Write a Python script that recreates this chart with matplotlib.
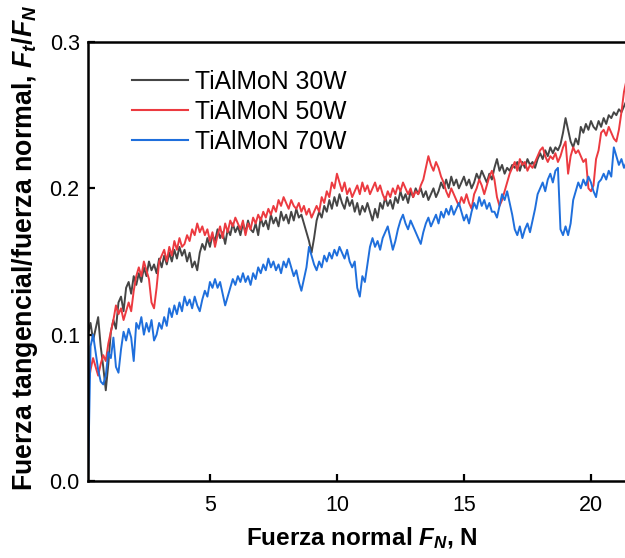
import numpy as np
import matplotlib
matplotlib.use("Agg")
import matplotlib.pyplot as plt

plt.rcParams['font.family'] = ['Liberation Sans', 'DejaVu Sans']
plt.rcParams['mathtext.fontset'] = 'custom'
plt.rcParams['mathtext.it'] = 'Liberation Sans:italic:bold'
plt.rcParams['mathtext.rm'] = 'Liberation Sans:bold'
plt.rcParams['mathtext.bf'] = 'Liberation Sans:bold'

# Normal force grid (N), one sample every 0.1 N
normal_force = np.round(np.arange(0.2, 21.41, 0.1), 2)

# Friction coefficient Ft/FN (x1000)
tialmon_30w = [
    100, 108, 96, 104, 112, 92, 78, 62, 80, 102,
    110, 104, 122, 126, 116, 132, 136, 128, 140, 134,
    142, 136, 146, 140, 150, 144, 148, 142, 152, 146,
    154, 148, 156, 150, 158, 152, 160, 154, 158, 150,
    156, 146, 150, 144, 156, 162, 158, 166, 160, 168,
    164, 172, 166, 170, 162, 172, 168, 176, 170, 174,
    168, 176, 170, 178, 172, 170, 176, 168, 180, 174,
    178, 172, 182, 176, 180, 174, 184, 178, 182, 176,
    184, 178, 186, 180, 182, 176, 170, 164, 156, 166,
    178, 184, 180, 188, 184, 192, 186, 194, 188, 196,
    190, 186, 194, 188, 192, 184, 190, 182, 188, 184,
    190, 184, 178, 186, 180, 190, 186, 194, 188, 192,
    186, 194, 190, 198, 192, 196, 190, 198, 194, 200,
    196, 200, 194, 198, 192, 196, 200, 194, 198, 204,
    200, 206, 200, 208, 202, 206, 200, 204, 208, 202,
    206, 200, 204, 210, 206, 212, 208, 204, 210, 206,
    214, 220, 212, 216, 210, 214, 212, 216, 214, 218,
    212, 218, 214, 220, 216, 218, 214, 220, 224, 220,
    226, 222, 228, 224, 228, 226, 230, 238, 248, 240,
    232, 228, 234, 230, 242, 238, 244, 240, 246, 242,
    240, 246, 242, 248, 244, 250, 248, 252, 250, 254,
    252, 256, 260,
]
tialmon_50w = [
    64, 76, 84, 78, 72, 80, 86, 82, 94, 102,
    110, 120, 114, 118, 110, 116, 122, 116, 130, 140,
    146, 140, 150, 144, 138, 122, 118, 132, 150, 154,
    158, 150, 160, 154, 164, 158, 166, 160, 162, 168,
    164, 172, 168, 176, 170, 174, 168, 172, 164, 170,
    160, 168, 174, 166, 176, 170, 178, 174, 180, 176,
    172, 178, 168, 176, 172, 180, 176, 182, 178, 184,
    180, 186, 182, 188, 184, 192, 188, 194, 190, 186,
    192, 188, 186, 190, 184, 188, 182, 186, 180, 184,
    188, 184, 194, 190, 198, 194, 204, 200, 210, 204,
    198, 204, 196, 200, 194, 198, 202, 196, 204, 198,
    202, 196, 200, 204, 198, 202, 196, 192, 198, 194,
    200, 196, 202, 198, 204, 200, 196, 200, 194, 198,
    196, 202, 206, 214, 222, 216, 212, 218, 214, 208,
    204, 198, 194, 200, 196, 192, 188, 194, 190, 196,
    190, 186, 196, 200, 206, 202, 196, 202, 208, 212,
    206, 194, 188, 192, 198, 204, 210, 214, 218, 212,
    220, 216, 218, 212, 216, 214, 218, 222, 226, 228,
    222, 218, 222, 220, 224, 218, 222, 228, 232, 210,
    222, 228, 224, 226, 222, 218, 220, 200, 198, 202,
    220, 226, 238, 240, 236, 242, 238, 234, 232, 240,
    252, 266, 274,
]
tialmon_70w = [
    0, 92, 100, 88, 76, 68, 66, 72, 88, 84,
    98, 78, 74, 90, 102, 96, 104, 98, 82, 108,
    104, 112, 100, 108, 102, 110, 96, 100, 108, 104,
    112, 106, 118, 112, 120, 114, 122, 116, 126, 120,
    124, 118, 126, 120, 116, 124, 130, 126, 136, 132,
    138, 132, 136, 128, 120, 126, 132, 138, 134, 140,
    136, 142, 136, 140, 134, 142, 138, 146, 142, 148,
    144, 152, 146, 150, 144, 148, 142, 150, 146, 152,
    146, 140, 144, 136, 130, 138, 146, 160, 154, 148,
    144, 150, 146, 154, 150, 156, 152, 158, 154, 160,
    156, 152, 158, 150, 146, 150, 132, 126, 140, 136,
    148, 160, 166, 160, 164, 158, 166, 170, 174, 166,
    158, 164, 172, 178, 182, 176, 172, 178, 174, 170,
    166, 162, 170, 176, 180, 174, 178, 182, 176, 184,
    180, 186, 182, 188, 182, 186, 190, 184, 178, 182,
    176, 184, 190, 186, 194, 188, 192, 186, 190, 184,
    184, 180, 188, 196, 192, 198, 190, 182, 172, 168,
    174, 166, 172, 176, 170, 178, 186, 196, 200, 204,
    198, 206, 210, 204, 212, 214, 172, 168, 174, 168,
    176, 192, 198, 204, 200, 206, 202, 208, 204, 198,
    194, 204, 206, 210, 206, 212, 208, 228, 222, 216,
    220, 214, 218,
]

series_labels = ['TiAlMoN 30W', 'TiAlMoN 50W', 'TiAlMoN 70W']
series_values = [tialmon_30w, tialmon_50w, tialmon_70w]
series_colors = ['#454545', '#ec3a40', '#1f6fdc']

x_ticks = [5, 10, 15, 20]
y_ticks = [0.0, 0.1, 0.2, 0.3]

fig = plt.figure(figsize=(6.25, 5.58), dpi=100)
ax = fig.add_axes([88 / 625, 1 - 481 / 558, 1 - 88 / 625, (481 - 42) / 558])

for lab, vals, col in zip(series_labels, series_values, series_colors):
    ax.plot(normal_force, np.array(vals) / 1000.0, color=col, lw=1.4, label=lab)

ax.set_xlim(0.2, 21.34)
ax.set_ylim(0.0, 0.3)
ax.set_xticks(x_ticks)
ax.set_yticks(y_ticks)
ax.set_yticklabels([f'{v:.1f}' for v in y_ticks])
ax.tick_params(direction='in', length=5, width=1.6, labelsize=15.5)
ax.tick_params(axis='y', pad=6)
ax.tick_params(axis='x', pad=10)

for side in ['left', 'top', 'bottom']:
    ax.spines[side].set_linewidth(1.8)
ax.spines['right'].set_visible(False)

ax.set_xlabel('Fuerza normal $F_N$, N', fontsize=17.5, fontweight='bold', va='center')
ax.xaxis.set_label_coords(0.51, -0.13)
ax.set_ylabel('Fuerza tangencial/fuerza normal, $F_t/F_N$', fontsize=19.3,
              fontweight='bold', va='center')
ax.yaxis.set_label_coords(-0.118, 0.531)

leg = ax.legend(loc='upper left', bbox_to_anchor=(0.082, 0.937), frameon=False,
                fontsize=17.8, handlelength=2.25, handletextpad=0.28,
                labelspacing=0.25, borderpad=0, borderaxespad=0)
for line in leg.get_lines():
    line.set_linewidth(1.5)

fig.savefig('out.png', dpi=100)
